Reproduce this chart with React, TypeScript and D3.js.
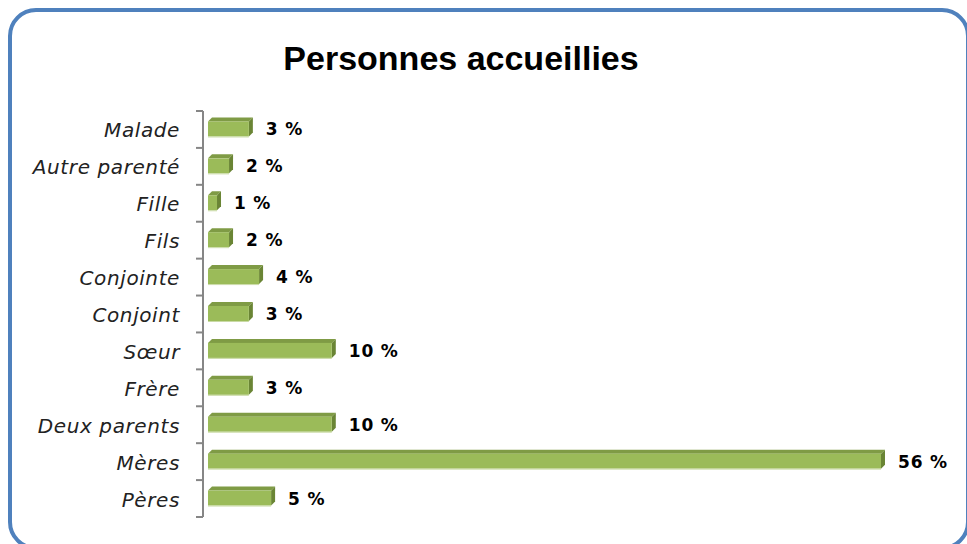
import React from "react";
import * as d3 from "d3";

const categories = ["Malade", "Autre parenté", "Fille", "Fils", "Conjointe", "Conjoint", "Sœur", "Frère", "Deux parents", "Mères", "Pères"];
const values = [3.4, 1.75, 0.75, 1.75, 4.25, 3.4, 10.3, 3.4, 10.3, 56, 5.25];
const title = "Personnes accueillies";

const W = 967, H = 544;

export default function App() {
  const x = d3.scaleLinear().domain([0, 56]).range([208, 881]);
  const y = d3.scaleBand<string>().domain(categories).range([111, 517]).padding(0);
  const bw = y.bandwidth();
  const depth = 4;
  const fh = 15;
  const boundaries = categories.map((c) => y(c)!).concat([y.range()[1]]);
  return (
    <div style={{ position: "absolute", left: 0, top: 0 }}>
      <svg width={W} height={H} style={{ display: "block", background: "#fff" }}>
        <rect x={10} y={10} width={958} height={538} rx={26} ry={26} fill="#fff" stroke="#4F81BD" strokeWidth={4} />
        <text x={461} y={70} textAnchor="middle" fontFamily="'Liberation Sans', Arial, sans-serif" fontWeight="bold" fontSize={34} fill="#000">{title}</text>
        <line x1={203} x2={203} y1={y.range()[0]} y2={y.range()[1]} stroke="#868686" strokeWidth={2} />
        {boundaries.map((b, i) => (
          <line key={"t" + i} x1={196} x2={203} y1={b} y2={b} stroke="#868686" strokeWidth={2} />
        ))}
        {categories.map((c, i) => {
          const cy = y(c)! + bw / 2;
          const top = cy - fh / 2 - 0.5;
          const x0 = x(0);
          const x1 = x(values[i]);
          return (
            <g key={c}>
              <text x={180} y={cy + 8} textAnchor="end" fontFamily="'DejaVu Sans', sans-serif" fontStyle="italic" fontSize={20} letterSpacing={0.6} fill="#222">{c}</text>
              <polygon points={`${x0},${top} ${x0 + depth},${top - depth} ${x1 + depth},${top - depth} ${x1},${top}`} fill="#7F9B45" />
              <polygon points={`${x1},${top} ${x1 + depth},${top - depth} ${x1 + depth},${top + fh - depth} ${x1},${top + fh}`} fill="#6A8535" />
              <rect x={x0} y={top} width={x1 - x0} height={fh} fill="#9BBB59" />
              <line x1={x0} x2={x1} y1={top + fh + 0.5} y2={top + fh + 0.5} stroke="#C9DAA5" strokeWidth={1} />
              <text x={x1 + 17} y={cy + 6} fontFamily="'DejaVu Sans', sans-serif" fontWeight="bold" fontSize={17} letterSpacing={0.8} fill="#000">{Math.round(values[i]) + " %"}</text>
            </g>
          );
        })}
      </svg>
    </div>
  );
}
